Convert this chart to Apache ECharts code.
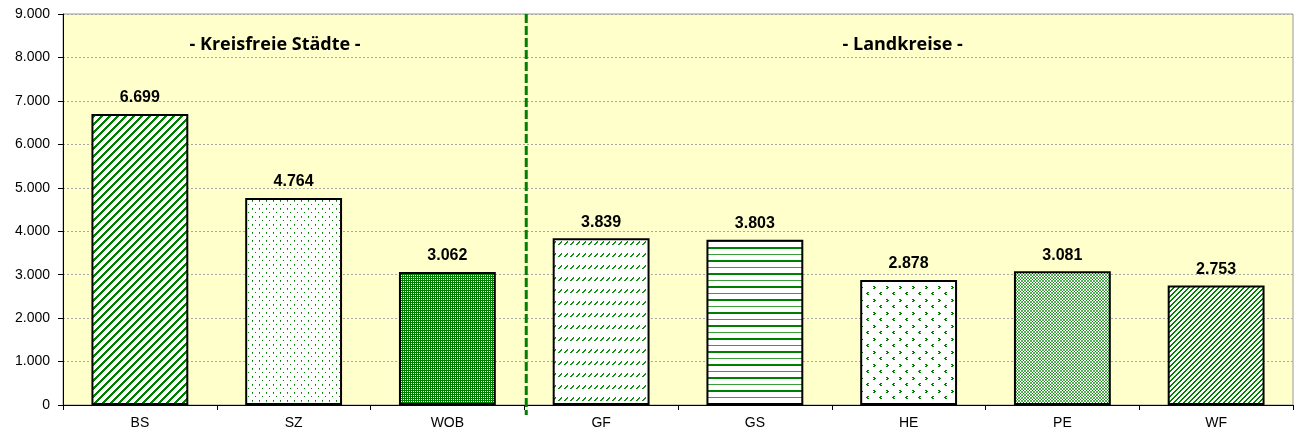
<!DOCTYPE html>
<html><head><meta charset="utf-8">
<script src="https://cdn.jsdelivr.net/npm/echarts@6/dist/echarts.min.js"></script>
<style>html,body{margin:0;padding:0;background:#fff}#c{width:1298px;height:434px}</style>
</head><body><div id="c"></div>
<script>
const categories = ['BS','SZ','WOB','GF','GS','HE','PE','WF'];
const values = [6699,4764,3062,3839,3803,2878,3081,2753];
const groupTitles = ['- Kreisfreie Städte -','- Landkreise -'];
const groupSplitAfter = 2; // index of last "Kreisfreie Städte" category

const G='#008000', L='#3a9e3a';
function tile(w,h,fn){const c=document.createElement('canvas');c.width=w;c.height=h;const g=c.getContext('2d');g.fillStyle='#fff';g.fillRect(0,0,w,h);for(let y=0;y<h;y++)for(let x=0;x<w;x++){const col=fn(x,y);if(col){g.fillStyle=col;g.fillRect(x,y,1,1);}}return c;}
function pts(list){return (x,y)=>list.some(p=>p[0]===x&&p[1]===y);}
const heA=pts([[2,0],[3,0],[3,1],[4,1],[2,2],[3,2]]), heB=pts([[9,6],[10,6],[8,7],[9,7],[9,8],[10,8]]);
const patterns = [
  tile(8,8,(x,y)=>((x+y)%8<3)?G:null),
  tile(7,8,(x,y)=>((x===0&&y===0)||(x===3&&y===4))?G:((x===0&&y===1)?L:null)),
  tile(4,4,(x,y)=>((x===1&&y===1)||(x===3&&y===3)||(x===1&&y===3)||(x===3&&y===1))?null:G),
  tile(6,12,(x,y)=>((x+y)===4&&x<4)?G:(((x+y)===5&&x>0&&x<4)?L:null)),
  tile(4,13,(x,y)=>y<2?G:(y===7?L:null)),
  tile(13,13,(x,y)=>(heA(x,y)||heB(x,y))?G:null),
  tile(6,6,(x,y)=>((x+y)%3===0||(x-y+6)%3===0)?((x%3===0&&y%3===0)?G:'#55b055'):null),
  tile(5,5,(x,y)=>((x+y)%5<2)?G:null)
];

const chart = echarts.init(document.getElementById('c'));
const fontFam = '"Liberation Sans", Arial, sans-serif';
chart.setOption({
  animation:false,
  grid:{left:63,right:5,top:14,bottom:29,show:true,backgroundColor:'#FFFFCC',borderColor:'#999',borderWidth:1},
  xAxis:{type:'category',data:categories,
    axisLine:{lineStyle:{color:'#000',width:1}},
    axisTick:{show:true,length:5,lineStyle:{color:'#000'}},
    axisLabel:{color:'#000',fontSize:14,fontFamily:fontFam,margin:11}},
  yAxis:{type:'value',min:0,max:9000,interval:1000,
    axisLine:{show:true,lineStyle:{color:'#000',width:1}},
    axisTick:{show:true,length:5,lineStyle:{color:'#000'}},
    splitLine:{lineStyle:{color:'#a8a8a8',type:[2,2],width:1}},
    axisLabel:{color:'#000',fontSize:14,fontFamily:fontFam,margin:13,
      formatter:v=>v===0?'0':(v/1000)+'.000'}},
  series:[{type:'bar',barCategoryGap:'37%',
    data:values.map((v,i)=>({value:v,itemStyle:{color:{image:patterns[i],repeat:'repeat'}}})),
    itemStyle:{borderColor:'#000',borderWidth:2},
    label:{show:true,position:'top',distance:8,color:'#000',fontWeight:'bold',fontSize:16,fontFamily:fontFam,
      formatter:p=>{const s=String(p.value);return s.length>3?s.slice(0,-3)+'.'+s.slice(-3):s;}}
  }]
});
function decorate(){
  const x1=chart.convertToPixel({xAxisIndex:0},categories[groupSplitAfter]);
  const x2=chart.convertToPixel({xAxisIndex:0},categories[groupSplitAfter+1]);
  const xd=(x1+x2)/2+2;
  const yTop=chart.convertToPixel({yAxisIndex:0},9000);
  const y0=chart.convertToPixel({yAxisIndex:0},0);
  const yT=chart.convertToPixel({yAxisIndex:0},8300);
  const xl=chart.convertToPixel({xAxisIndex:0},categories[0]);
  const xg=chart.convertToPixel({xAxisIndex:0},categories[groupSplitAfter+1]);
  const xr=chart.convertToPixel({xAxisIndex:0},categories[categories.length-1]);
  const font='bold 18px "Open Sans", sans-serif';
  chart.setOption({graphic:[
    {type:'line',shape:{x1:xd,y1:yTop,x2:xd,y2:y0+10},style:{stroke:G,lineWidth:3,lineDash:[9,3]},z:10},
    {type:'text',x:(xl+xd)/2-58,y:yT,style:{text:groupTitles[0],font:font,fill:'#000',textAlign:'center',textVerticalAlign:'middle'}},
    {type:'text',x:(xg+xr)/2-6,y:yT,style:{text:groupTitles[1],font:font,fill:'#000',textAlign:'center',textVerticalAlign:'middle'}}
  ]});
}
decorate();
</script></body></html>
